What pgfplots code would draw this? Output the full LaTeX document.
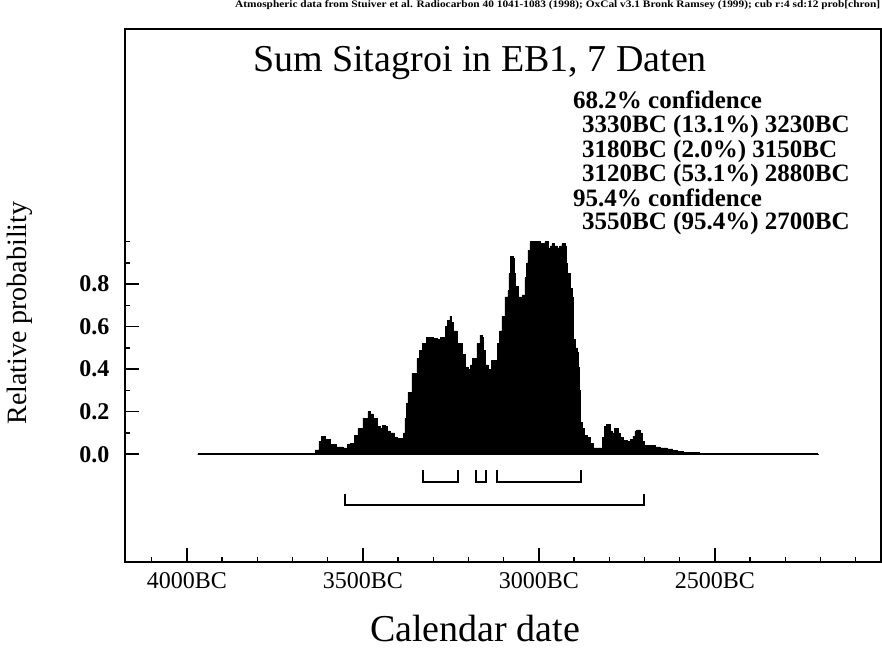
\documentclass[border=0pt]{standalone}
\usepackage{pgfplots}
\pgfplotsset{compat=1.18}
\usepackage{fontspec}
\setmainfont{Liberation Serif}
\begin{document}
\begin{tikzpicture}
\begin{axis}[
  at={(0,0)}, anchor=south west,
  scale only axis, width=756bp, height=533bp,
  xmin=-4176, xmax=-2028, ymin=-0.507, ymax=2.0,
  axis line style={line width=1.5bp},
  xtick={-4000,-3500,-3000,-2500},
  xticklabels={4000BC,3500BC,3000BC,2500BC},
  minor xtick={-4100,-4000,...,-2100},
  ytick={0,0.2,0.4,0.6,0.8},
  minor ytick={0.1,0.3,0.5,0.7,0.9,1.0},
  xtick pos=bottom, ytick pos=left,
  major tick length=14bp, minor tick length=5bp,
  tick style={line width=1.5bp, black},
  /pgf/number format/assume math mode=true,
  xticklabel style={font=\fontsize{24bp}{24bp}\selectfont, yshift=-7bp},
  yticklabel style={font=\bfseries\fontsize{24bp}{24bp}\selectfont, xshift=-12bp,
    /pgf/number format/fixed, /pgf/number format/fixed zerofill, /pgf/number format/precision=1},
  xlabel={Calendar date}, ylabel={Relative probability},
  xlabel style={font=\fontsize{38bp}{38bp}\selectfont, at={(axis description cs:0.463,-0.124)}, anchor=center},
  ylabel style={font=\fontsize{28bp}{28bp}\selectfont, at={(axis description cs:-0.139,0.467)}, anchor=center},
  clip=false,
]
\addplot[const plot, fill=black, draw=black, line width=0.5bp] coordinates {
(-3970,0) (-3650,0.005) (-3636,0.02) (-3625,0.06) (-3617,0.083) (-3608,0.07)
(-3594,0.045) (-3575,0.035) (-3557,0.03) (-3545,0.045) (-3537,0.05) (-3525,0.09)
(-3514,0.12) (-3500,0.17) (-3486,0.2) (-3479,0.19) (-3472,0.17) (-3460,0.13)
(-3452,0.12) (-3444,0.135) (-3437,0.13) (-3430,0.11) (-3423,0.10) (-3410,0.08)
(-3403,0.075) (-3389,0.065) (-3384,0.10) (-3381,0.17) (-3376,0.24) (-3372,0.29)
(-3361,0.38) (-3347,0.45) (-3340,0.49) (-3332,0.52) (-3320,0.55) (-3310,0.55)
(-3300,0.545) (-3290,0.54) (-3280,0.55) (-3273,0.55) (-3266,0.60) (-3261,0.63)
(-3253,0.65) (-3248,0.62) (-3244,0.58) (-3233,0.52) (-3219,0.47) (-3210,0.41)
(-3202,0.40) (-3195,0.42) (-3190,0.45) (-3176,0.52) (-3168,0.56) (-3162,0.55)
(-3159,0.49) (-3153,0.42) (-3145,0.39) (-3140,0.40) (-3134,0.44) (-3119,0.52)
(-3112,0.58) (-3105,0.65) (-3097,0.74) (-3088,0.77) (-3085,0.85) (-3082,0.93)
(-3077,0.93) (-3074,0.92) (-3071,0.85) (-3068,0.79) (-3060,0.74) (-3048,0.75)
(-3040,0.83) (-3035,0.90) (-3031,0.96) (-3026,1.0) (-3010,1.0) (-2995,0.99)
(-2983,1.0) (-2974,0.97) (-2968,0.98) (-2963,0.99) (-2955,0.98) (-2949,0.97)
(-2942,0.98) (-2935,0.99) (-2926,0.98) (-2922,0.90) (-2920,0.85) (-2912,0.78)
(-2906,0.74) (-2903,0.60) (-2901,0.54) (-2897,0.50) (-2892,0.48) (-2889,0.41)
(-2886,0.30) (-2882,0.15) (-2878,0.12) (-2870,0.09) (-2864,0.08) (-2855,0.05)
(-2847,0.03) (-2827,0.03) (-2820,0.08) (-2813,0.13) (-2808,0.14) (-2804,0.14)
(-2798,0.11) (-2793,0.10) (-2785,0.12) (-2778,0.12) (-2774,0.10) (-2770,0.08)
(-2760,0.065) (-2750,0.06) (-2740,0.07) (-2733,0.085) (-2727,0.11) (-2722,0.115)
(-2713,0.10) (-2707,0.06) (-2702,0.04) (-2685,0.04) (-2670,0.035) (-2656,0.03)
(-2636,0.025) (-2620,0.018) (-2608,0.015) (-2591,0.01) (-2570,0.007) (-2543,0.004)
(-2500,0.001) (-2207,0)
} \closedcycle;
\addplot[black, line width=2bp] coordinates {(-3970,0) (-2207,0)};
% 68.2% ranges
\addplot[black, line width=2bp] coordinates {(-3330,-0.074) (-3330,-0.129) (-3230,-0.129) (-3230,-0.074)};
\addplot[black, line width=2bp] coordinates {(-3180,-0.074) (-3180,-0.129) (-3150,-0.129) (-3150,-0.074)};
\addplot[black, line width=2bp] coordinates {(-3120,-0.074) (-3120,-0.129) (-2880,-0.129) (-2880,-0.074)};
% 95.4% range
\addplot[black, line width=2bp] coordinates {(-3550,-0.185) (-3550,-0.24) (-2700,-0.24) (-2700,-0.185)};

\node[anchor=west, inner sep=0, font=\bfseries\fontsize{11bp}{11bp}\selectfont] at (rel axis cs:0.1455,1.045)
  {\resizebox{645bp}{7bp}{Atmospheric data from Stuiver et al. Radiocarbon 40 1041-1083 (1998); OxCal v3.1 Bronk Ramsey (1999); cub r:4 sd:12 prob[chron]}};
\node[anchor=base, inner sep=0, font=\fontsize{38bp}{38bp}\selectfont] at (rel axis cs:0.4696,0.921) {Sum Sitagroi in EB1, 7 Daten};
\begin{scope}[every node/.style={anchor=base west, inner sep=0, font=\bfseries\fontsize{25bp}{25bp}\selectfont}]
\node at (rel axis cs:0.5926,0.8499) {68.2\% confidence};
\node at (rel axis cs:0.6045,0.8049) {3330BC (13.1\%) 3230BC};
\node at (rel axis cs:0.6045,0.7598) {3180BC (2.0\%) 3150BC};
\node at (rel axis cs:0.6045,0.7148) {3120BC (53.1\%) 2880BC};
\node at (rel axis cs:0.5926,0.6679) {95.4\% confidence};
\node at (rel axis cs:0.6045,0.6229) {3550BC (95.4\%) 2700BC};
\end{scope}
\end{axis}
\pgfresetboundingbox
\path[use as bounding box] (-125bp,-87bp) rectangle (757bp,562bp);
\end{tikzpicture}
\end{document}
